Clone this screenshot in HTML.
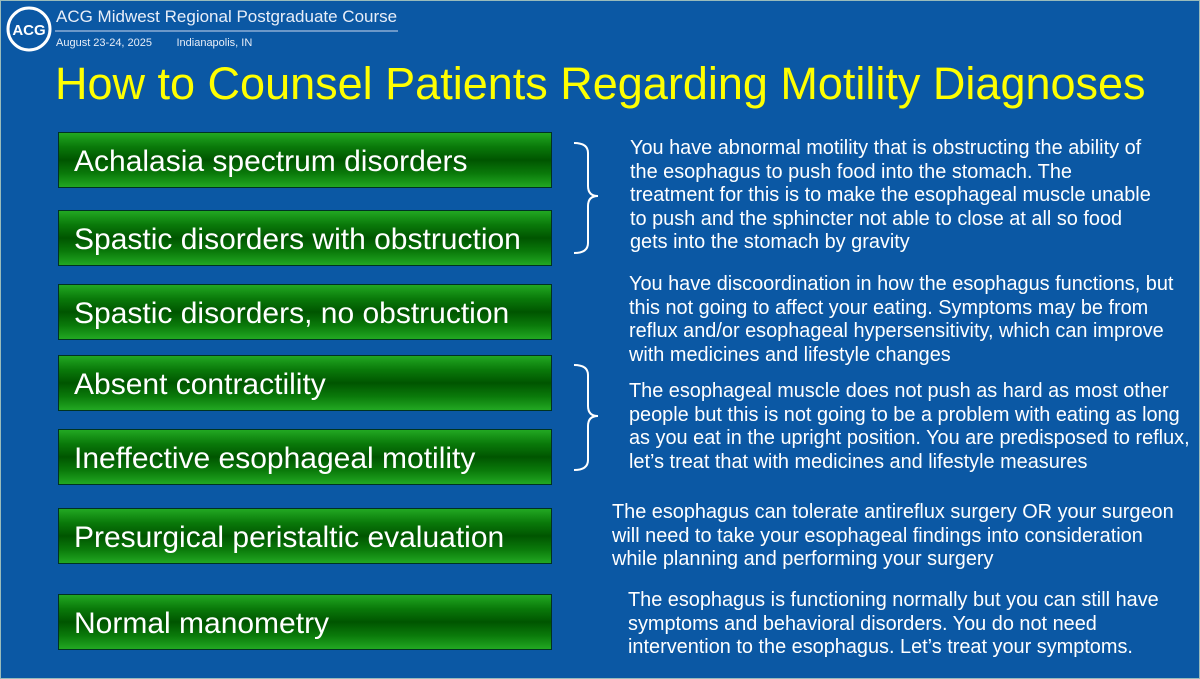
<!DOCTYPE html>
<html><head><style>
body{margin:0;width:1200px;height:679px;overflow:hidden;background:#0b58a4;font-family:"Liberation Sans",sans-serif;position:relative}
.frame{position:absolute;left:0;top:0;width:1198px;height:677px;border:1px solid #9bb;}
.hd{position:absolute;color:#e8eef8;white-space:nowrap}
.box{position:absolute;left:58px;border:1px solid #032;background:linear-gradient(#22a822,#0a7a0a 25%,#005500 50%,#0a7a0a 75%,#22a822);color:#fff;font-size:30px;line-height:58px;padding-left:15px;box-sizing:border-box;width:494px;height:56px;white-space:nowrap}
.t{position:absolute;color:#fff;font-size:19.9px;line-height:23.6px;white-space:nowrap}
</style></head><body>
<div class="frame"></div>
<svg style="position:absolute;left:0;top:0" width="1200" height="679">
<circle cx="29" cy="29" r="21" fill="#0b58a4" stroke="#fff" stroke-width="3"/>
<text x="29" y="35" fill="#fff" font-family="Liberation Sans" font-size="15" text-anchor="middle" font-weight="bold">ACG</text>
<line x1="55" y1="31" x2="398" y2="31" stroke="#cdd9ee" stroke-width="1"/>
<path d="M574 143 Q588 143 588 153 L588 186 Q588 196 598 196 Q588 196 588 206 L588 243 Q588 253 574 253" fill="none" stroke="#fff" stroke-width="2"/>
<path d="M574 365 Q588 365 588 375 L588 406 Q588 416 598 416 Q588 416 588 426 L588 460 Q588 470 574 470" fill="none" stroke="#fff" stroke-width="2"/>
</svg>
<div class="hd" style="left:56px;top:7px;font-size:17px">ACG Midwest Regional Postgraduate Course</div>
<div class="hd" style="left:56px;top:37px;font-size:11px">August 23-24, 2025 &nbsp;&nbsp;&nbsp;&nbsp;&nbsp;&nbsp;&nbsp;Indianapolis, IN</div>
<div style="position:absolute;left:55px;top:58px;color:#ffff00;font-size:45px;white-space:nowrap">How to Counsel Patients Regarding Motility Diagnoses</div>
<div class="box" style="top:132px">Achalasia spectrum disorders</div>
<div class="box" style="top:210px">Spastic disorders with obstruction</div>
<div class="box" style="top:284px">Spastic disorders, no obstruction</div>
<div class="box" style="top:355px">Absent contractility</div>
<div class="box" style="top:429px">Ineffective esophageal motility</div>
<div class="box" style="top:508px">Presurgical peristaltic evaluation</div>
<div class="box" style="top:594px">Normal manometry</div>
<div class="t" style="left:630px;top:137px">You have abnormal motility that is obstructing the ability of<br>the esophagus to push food into the stomach. The<br>treatment for this is to make the esophageal muscle unable<br>to push and the sphincter not able to close at all so food<br>gets into the stomach by gravity</div>
<div class="t" style="left:629px;top:273px">You have discoordination in how the esophagus functions, but<br>this not going to affect your eating. Symptoms may be from<br>reflux and/or esophageal hypersensitivity, which can improve<br>with medicines and lifestyle changes</div>
<div class="t" style="left:629px;top:380px">The esophageal muscle does not push as hard as most other<br>people but this is not going to be a problem with eating as long<br>as you eat in the upright position. You are predisposed to reflux,<br>let’s treat that with medicines and lifestyle measures</div>
<div class="t" style="left:612px;top:501px">The esophagus can tolerate antireflux surgery OR your surgeon<br>will need to take your esophageal findings into consideration<br>while planning and performing your surgery</div>
<div class="t" style="left:628px;top:589px">The esophagus is functioning normally but you can still have<br>symptoms and behavioral disorders. You do not need<br>intervention to the esophagus. Let’s treat your symptoms.</div>
</body></html>
